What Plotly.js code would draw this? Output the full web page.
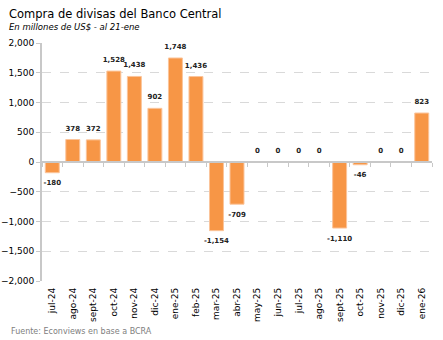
<!DOCTYPE html>
<html><head><meta charset="utf-8">
<script src="https://cdn.plot.ly/plotly-3.0.1.min.js"></script>
<style>html,body{margin:0;padding:0;background:#fff;}#chart{width:443px;height:340px;}</style>
</head><body><div id="chart"></div>
<script>
var months = ["jul-24","ago-24","sept-24","oct-24","nov-24","dic-24","ene-25","feb-25","mar-25","abr-25","may-25","jun-25","jul-25","ago-25","sept-25","oct-25","nov-25","dic-25","ene-26"];
var compras = [-180,378,372,1528,1438,902,1748,1436,-1154,-709,0,0,0,0,-1110,-46,0,0,823];
var yTicks = [-2000,-1500,-1000,-500,0,500,1000,1500,2000];

var labels = compras.map(function(v){return v.toLocaleString('en-US');});
var pos = compras.map(function(v){return v<0?'bottom center':'top center';});
var FONT = 'DejaVu Sans, Verdana, sans-serif';
var xr = [-0.5, months.length - 0.5];

var traces = [
  {type:'bar', x:months, y:compras, width:0.68,
   marker:{color:'#F79646', line:{color:'#FBC49A', width:1}}, hoverinfo:'none'},
  {type:'scatter', mode:'markers+text', x:months, y:compras, text:labels, textposition:pos,
   marker:{size:10, opacity:0},
   textfont:{family:FONT, size:7, color:'#222', weight:'bold'}, hoverinfo:'none', cliponaxis:false},
  {type:'scatter', mode:'none', x:months, y:compras, xaxis:'x2', hoverinfo:'none'}
];

var layout = {
  width:443, height:340,
  margin:{l:42, r:11, t:43, b:59},
  paper_bgcolor:'#fff', plot_bgcolor:'#fff',
  showlegend:false,
  font:{family:FONT, size:9, color:'#000'},
  xaxis:{type:'category', range:xr, autorange:false, showline:false, ticks:'', showgrid:false, zeroline:false,
    tickangle:-90, tickfont:{size:9, family:FONT, color:'#000'}, ticklabelstandoff:4},
  xaxis2:{type:'category', overlaying:'x', anchor:'free', position:0.5, range:xr, autorange:false,
    showline:true, linecolor:'#C8C8C8', linewidth:2, ticks:'outside', ticklen:4,
    tickcolor:'#C8C8C8', tickson:'boundaries', showticklabels:false, showgrid:false, zeroline:false},
  yaxis:{range:[-2000,2000], tickvals:yTicks, tickformat:',', showline:true, linecolor:'#C8C8C8', linewidth:2,
    ticks:'outside', ticklen:4, tickcolor:'#C8C8C8',
    showgrid:true, gridcolor:'#D9D9D9', griddash:'dash', gridwidth:1, zeroline:false,
    tickfont:{size:9, family:FONT, color:'#000'}},
  annotations:[
    {text:'Compra de divisas del Banco Central', xref:'paper', yref:'paper', x:-0.09, y:1.0, xanchor:'left', yanchor:'bottom',
     yshift:20, showarrow:false, font:{family:FONT, size:11.5, color:'#000'}},
    {text:'<i>En millones de US$ - al 21-ene</i>', xref:'paper', yref:'paper', x:-0.09, y:1.0, xanchor:'left', yanchor:'bottom',
     yshift:9, showarrow:false, font:{family:FONT, size:8.5, color:'#000'}},
    {text:'Fuente: Econviews en base a BCRA', xref:'paper', yref:'paper', x:-0.085, y:0, xanchor:'left', yanchor:'top',
     yshift:-44, showarrow:false, font:{family:FONT, size:8, color:'#808080'}}
  ]
};
Plotly.newPlot('chart', traces, layout, {displayModeBar:false, staticPlot:true});
</script></body></html>
